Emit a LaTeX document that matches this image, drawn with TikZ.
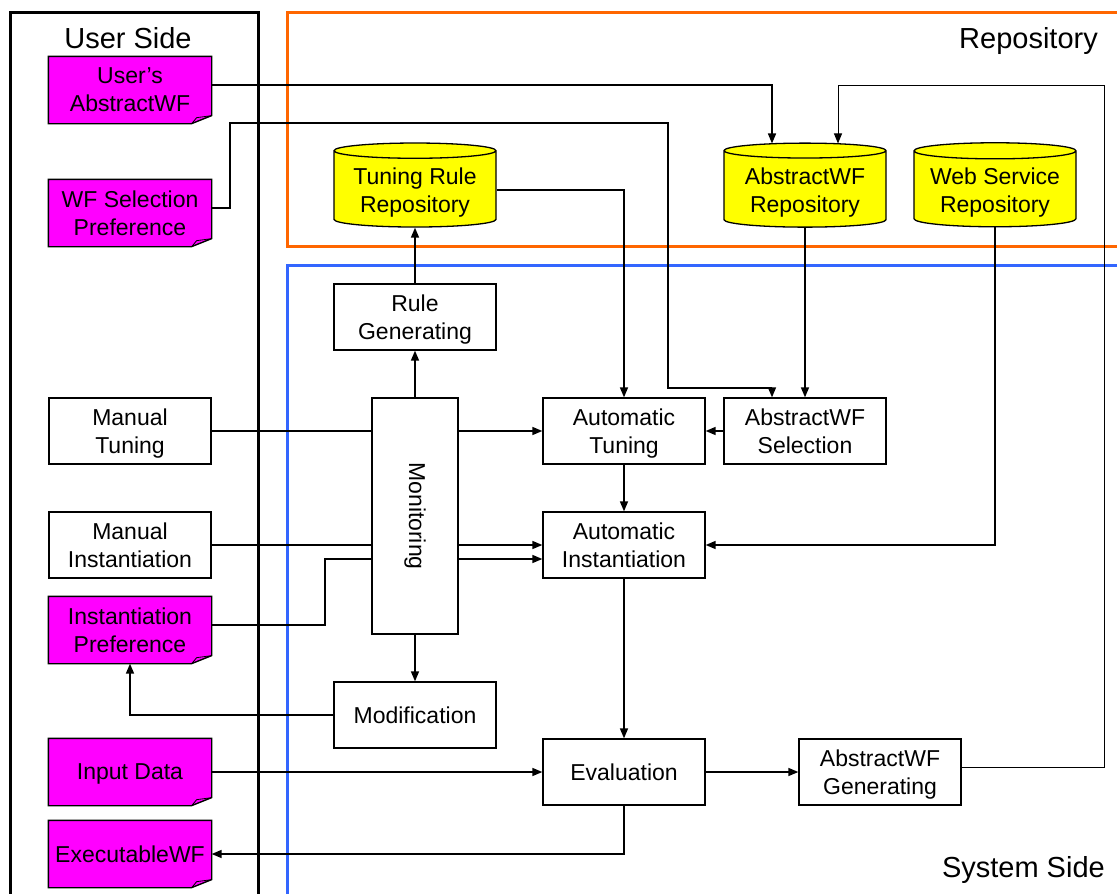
\documentclass[tikz,border=0pt]{standalone}
\usepackage{fontspec}
\setmainfont{Liberation Sans}
\usetikzlibrary{arrows.meta,shapes.geometric,backgrounds}
\definecolor{docmagenta}{RGB}{255,0,255}
\definecolor{repoyellow}{RGB}{255,255,0}
\definecolor{repoorange}{RGB}{255,102,0}
\definecolor{sysblue}{RGB}{51,102,255}

% a page whose bottom right corner is cut off
\makeatletter
\pgfdeclareshape{foldeddoc}{
  \inheritsavedanchors[from=rectangle]
  \inheritanchorborder[from=rectangle]
  \inheritanchor[from=rectangle]{center}
  \inheritanchor[from=rectangle]{north}
  \inheritanchor[from=rectangle]{south}
  \inheritanchor[from=rectangle]{east}
  \inheritanchor[from=rectangle]{west}
  \inheritanchor[from=rectangle]{north east}
  \inheritanchor[from=rectangle]{north west}
  \inheritanchor[from=rectangle]{south east}
  \inheritanchor[from=rectangle]{south west}
  \inheritanchor[from=rectangle]{base}
  \inheritanchor[from=rectangle]{mid}
  \inheritanchor[from=rectangle]{text}
  \backgroundpath{%
    \southwest \pgf@xa=\pgf@x \pgf@ya=\pgf@y
    \northeast \pgf@xb=\pgf@x \pgf@yb=\pgf@y
    \pgf@xc=\pgf@xb \advance\pgf@xc by -20pt
    \pgf@yc=\pgf@ya \advance\pgf@yc by 8pt
    \pgfpathmoveto{\pgfqpoint{\pgf@xa}{\pgf@ya}}%
    \pgfpathlineto{\pgfqpoint{\pgf@xa}{\pgf@yb}}%
    \pgfpathlineto{\pgfqpoint{\pgf@xb}{\pgf@yb}}%
    \pgfpathlineto{\pgfqpoint{\pgf@xb}{\pgf@yc}}%
    \pgfpathlineto{\pgfqpoint{\pgf@xc}{\pgf@ya}}%
    \pgfpathclose
  }
}
\makeatother

\begin{document}
\begin{tikzpicture}[x=1pt,y=-1pt,
  txt/.style={font=\fontsize{23}{28}\selectfont, align=center, text depth=0pt},
  box/.style={txt, draw, fill=white, line width=1.3pt,
    minimum width=162pt, minimum height=66pt, inner sep=2pt},
  doc/.style={txt, shape=foldeddoc, draw, fill=docmagenta, line width=1.3pt,
    minimum width=162pt, minimum height=66pt, inner sep=2pt,
    path picture={
      \draw[line width=0.8pt, fill=docmagenta]
        ([xshift=-20pt]path picture bounding box.south east)
        -- ([xshift=-15pt,yshift=6pt]path picture bounding box.south east)
        -- ([yshift=8pt]path picture bounding box.south east) -- cycle;}},
  repo/.style={txt, cylinder, shape border rotate=90, aspect=0.12,
    draw, fill=repoyellow, line width=1.3pt,
    minimum width=162pt, minimum height=84pt, inner sep=2pt},
  heading/.style={font=\fontsize{29}{34}\selectfont, inner sep=0pt},
  flow/.style={line width=1.5pt, -{Triangle[length=10pt,width=8pt]}},
  thinflow/.style={line width=1pt, -{Triangle[length=10pt,width=8pt]}},
  outline/.style={line width=3pt},
]
\useasboundingbox (0,0) rectangle (1117,894);

% headings of the three regions
\node[heading, anchor=base] (usertitle) at (128,48) {User Side};
\node[heading, anchor=base east] (repotitle) at (1098,48) {Repository};
\node[heading, anchor=base east] (systitle) at (1105,877) {System Side};

% documents on the user side
\node[doc] (ua)  at (130,90)  {User’s\\AbstractWF};
\node[doc] (wfs) at (130,213) {WF Selection\\Preference};
\node[doc] (ip)  at (130,630) {Instantiation\\Preference};
\node[doc] (ind) at (130,772) {Input Data};
\node[doc] (ewf) at (130,854) {ExecutableWF};

% manual steps
\node[box] (mt) at (130,431) {Manual\\Tuning};
\node[box] (mi) at (130,545) {Manual\\Instantiation};

% repositories
\node[repo] (trr) at (415,190) {Tuning Rule\\Repository};
\node[repo] (awr) at (805,190) {AbstractWF\\Repository};
\node[repo] (wsr) at (995,190) {Web Service\\Repository};

% system processes
\node[box] (rg)  at (415,317) {Rule\\Generating};
\node[box, text depth={}, minimum width=86pt, minimum height=236pt] (mon) at (415,516)
  {\rotatebox[origin=c]{-90}{Monitoring}};
\node[box] (mod) at (415,715) {Modification};
\node[box] (at)  at (624,431) {Automatic\\Tuning};
\node[box] (aws) at (805,431) {AbstractWF\\Selection};
\node[box] (ai)  at (624,545) {Automatic\\Instantiation};
\node[box] (ev)  at (624,772) {Evaluation};
\node[box] (awg) at (880,772) {AbstractWF\\Generating};

% bend points of the routed connectors
\coordinate (selA) at (230,123);
\coordinate (selB) at (668,388);
\coordinate (ipA) at (325,559);
\coordinate (loopA) at (1104,85);

\begin{scope}[on background layer]
  % region frames
  \draw[outline, black] (10,12) rectangle (258,920);
  \draw[outline, repoorange] (1140,12) -- (287,12) -- (287,246) -- (1140,246);
  \draw[outline, sysblue] (1140,265) -- (287,265) -- (287,920);

  % connectors
  \draw[flow] ([yshift=5pt]ua.east) -| ([xshift=-33pt,yshift=-1pt]awr.north);
  \draw[flow] ([yshift=5pt]wfs.east) -| (selA) -| (selB) -| ([xshift=-33pt]aws.north);
  \draw[flow] (awr.south) -- (aws.north);
  \draw[flow] (trr.east) -| (at.north);
  \draw[flow] (rg.north) -- (trr.south);
  \draw[flow] (mon.north) -- (rg.south);
  \draw[flow] (mt.east) -- (at.west);
  \draw[flow] (mi.east) -- (ai.west);
  \draw[flow] ([yshift=5pt]ip.east) -| (ipA) -- ([yshift=-14pt]ai.west);
  \draw[flow] (aws.west) -- (at.east);
  \draw[flow] (at.south) -- (ai.north);
  \draw[flow] (wsr.south) |- (ai.east);
  \draw[flow] (ai.south) -- (ev.north);
  \draw[flow] (mon.south) -- (mod.north);
  \draw[flow] (mod.west) -| (ip.south);
  \draw[flow] (ind.east) -- (ev.west);
  \draw[flow] (ev.east) -- (awg.west);
  \draw[thinflow] ([yshift=5pt]awg.east) -| (loopA) -| ([xshift=33pt,yshift=-1pt]awr.north);
  \draw[flow] (ev.south) |- (ewf.east);
\end{scope}
\end{tikzpicture}
\end{document}
